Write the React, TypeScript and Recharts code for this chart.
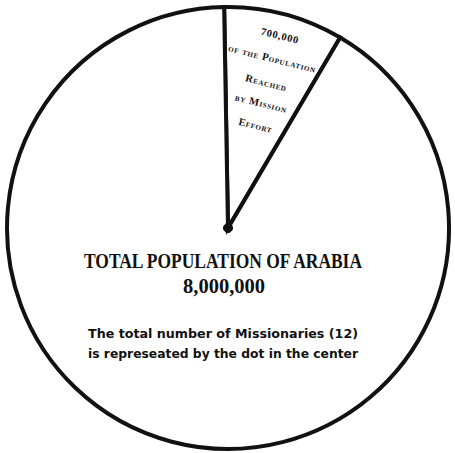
import { PieChart, Pie } from 'recharts';

// population split of Arabia
const segmentNames = ['Reached by mission effort', 'Not reached'];
const segmentValues = [700000, 7300000];
const missionaryCount = 12;

const wedgeLines = ['700,000', 'of the Population', 'Reached', 'by Mission', 'Effort'];
const titleText = 'TOTAL POPULATION OF ARABIA';
const totalText = '8,000,000';
const noteLines = [
  'The total number of Missionaries (12)',
  'is represeated by the dot in the center',
];

const pieData = segmentNames.map((name, i) => ({ name, value: segmentValues[i] }));
const dotData = [{ name: 'Missionaries', value: missionaryCount }];

const RAD = Math.PI / 180;

const renderWedgeLabel = (props: any) => {
  const { cx, cy, midAngle, index } = props;
  if (index !== 0) return null;
  const r = 150;
  const x = cx + r * Math.cos(-midAngle * RAD);
  const y = cy + r * Math.sin(-midAngle * RAD);
  const offsets = [-48, -24, 1, 22, 45];
  const sizes = [10.5, 10.5, 10.5, 10.5, 10.5];
  return (
    <g transform={`translate(${x},${y}) rotate(14)`}>
      {wedgeLines.map((line, i) => (
        <text
          key={line}
          x={i === 0 ? 2 : 0}
          y={offsets[i]}
          textAnchor="middle"
          dominantBaseline="middle"
          fill="#111"
          fontFamily="Liberation Serif"
          fontWeight="bold"
          fontSize={sizes[i]}
          style={{ fontVariant: i === 0 ? 'normal' : 'small-caps', letterSpacing: 0.7 }}
        >
          {line}
        </text>
      ))}
    </g>
  );
};

// the dot's label carries the centred captions
const renderCenterText = (props: any) => {
  const { cx, cy } = props;
  const x = cx - 5;
  return (
    <g fill="#111">
      <text
        x={x}
        y={cy + 40}
        textAnchor="middle"
        fontFamily="Liberation Serif"
        fontWeight="bold"
        fontSize={20}
        textLength={278}
        lengthAdjust="spacingAndGlyphs"
      >
        {titleText}
      </text>
      <text
        x={x + 1}
        y={cy + 65}
        textAnchor="middle"
        fontFamily="Liberation Serif"
        fontWeight="bold"
        fontSize={20}
        textLength={82}
        lengthAdjust="spacingAndGlyphs"
      >
        {totalText}
      </text>
      {noteLines.map((line, i) => (
        <text
          key={line}
          x={x}
          y={cy + 110 + i * 20}
          textAnchor="middle"
          fontFamily="DejaVu Sans"
          fontWeight="bold"
          fontSize={12.5}
          textLength={270}
          lengthAdjust="spacingAndGlyphs"
        >
          {line}
        </text>
      ))}
    </g>
  );
};

export default function App() {
  return (
    <div style={{ position: 'absolute', left: 0, top: 0, background: '#fff' }}>
      <PieChart width={455} height={453} margin={{ top: 0, right: 0, bottom: 0, left: 0 }}>
        <Pie
          data={pieData}
          dataKey="value"
          nameKey="name"
          cx={228}
          cy={228}
          innerRadius={0}
          outerRadius={221}
          startAngle={91}
          endAngle={-269}
          fill="#fff"
          stroke="#111"
          strokeWidth={4}
          label={renderWedgeLabel}
          labelLine={false}
          isAnimationActive={false}
        />
        <Pie
          data={dotData}
          dataKey="value"
          cx={228}
          cy={228}
          outerRadius={4.5}
          fill="#111"
          stroke="#111"
          strokeWidth={1}
          label={renderCenterText}
          labelLine={false}
          isAnimationActive={false}
        />
      </PieChart>
    </div>
  );
}
